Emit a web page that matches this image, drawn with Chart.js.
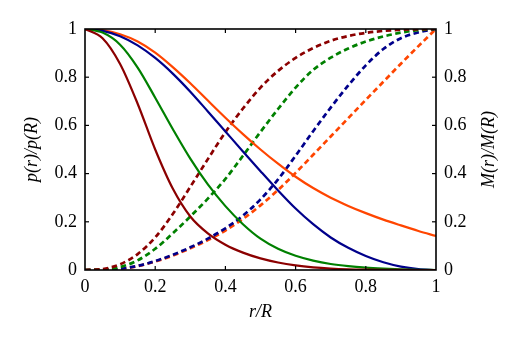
<!DOCTYPE html>
<html><head><meta charset="utf-8">
<script src="https://cdn.jsdelivr.net/npm/chart.js@4/dist/chart.umd.min.js"></script>
<style>html,body{margin:0;padding:0;background:#fff;}</style>
</head><body>
<canvas id="c" width="522" height="344"></canvas>
<script>
const rValues = [0,0.05,0.1,0.15,0.2,0.25,0.3,0.35,0.4,0.45,0.5,0.55,0.6,0.65,0.7,0.75,0.8,0.85,0.9,0.95,1];
// solid: p(r)/p(R)
const pRed    = [1,0.962,0.855,0.69,0.5,0.338,0.222,0.152,0.105,0.072,0.048,0.031,0.019,0.011,0.006,0.003,0.0015,0.0007,0.0003,0.0001,0];
const pGreen  = [1,0.985,0.935,0.84,0.715,0.585,0.462,0.355,0.265,0.19,0.13,0.088,0.059,0.039,0.025,0.016,0.01,0.006,0.003,0.001,0];
const pBlue   = [1,0.992,0.97,0.932,0.88,0.815,0.74,0.658,0.575,0.492,0.41,0.33,0.255,0.19,0.135,0.092,0.058,0.032,0.014,0.004,0];
const pOrange = [1,0.995,0.978,0.948,0.902,0.842,0.775,0.703,0.632,0.564,0.5,0.441,0.387,0.34,0.3,0.266,0.236,0.209,0.185,0.162,0.141];
// dashed: M(r)/M(R)
const mRed    = [0,0.004,0.024,0.066,0.135,0.232,0.345,0.46,0.572,0.67,0.757,0.826,0.88,0.921,0.951,0.971,0.984,0.992,0.997,0.999,1];
const mGreen  = [0,0.002,0.012,0.04,0.088,0.152,0.222,0.296,0.378,0.474,0.573,0.668,0.757,0.83,0.881,0.919,0.948,0.969,0.985,0.995,1];
const mBlue   = [0,0.001,0.005,0.017,0.037,0.063,0.094,0.13,0.173,0.226,0.293,0.376,0.474,0.576,0.674,0.766,0.849,0.917,0.962,0.986,1];
const mOrange = [0,0.001,0.005,0.016,0.035,0.06,0.09,0.124,0.164,0.212,0.268,0.332,0.403,0.478,0.554,0.63,0.706,0.781,0.856,0.929,1];

const tickValues = [0,0.2,0.4,0.6,0.8,1];
const tickLabels = ['0','0.2','0.4','0.6','0.8','1'];
const xTitle = 'r/R';
const yTitle = 'p(r)/p(R)';
const y2Title = 'M(r)/M(R)';

const RED='#8b0000', GREEN='#008000', BLUE='#00008b', ORANGE='#ff4500';
const FONT = '"Liberation Serif", serif';

function pts(arr){ return rValues.map((r,i)=>({x:r,y:arr[i]})); }
function solid(arr,c){ return {data:pts(arr),borderColor:c,borderWidth:2.2,pointRadius:0,cubicInterpolationMode:'monotone',yAxisID:'y',fill:false}; }
function dashed(arr,c){ return {data:pts(arr),borderColor:c,borderWidth:2.7,borderDash:[5.5,3.5],pointRadius:0,cubicInterpolationMode:'monotone',yAxisID:'y2',fill:false}; }

const frameTicks = {
  id:'frameTicks',
  afterDatasetsDraw(chart){
    const {ctx, chartArea:a, scales:{x,y}} = chart;
    ctx.save();
    ctx.strokeStyle='#000';
    ctx.lineWidth=1.2;
    const line=(x1,y1,x2,y2)=>{ctx.beginPath();ctx.moveTo(x1,y1);ctx.lineTo(x2,y2);ctx.stroke();};
    tickValues.forEach(v=>{
      if(v<=0||v>=1) return;
      const px=x.getPixelForValue(v), py=y.getPixelForValue(v);
      line(px,a.bottom,px,a.bottom-4); line(px,a.top,px,a.top+4);
      line(a.left,py,a.left+4,py); line(a.right,py,a.right-4,py);
    });
    ctx.lineWidth=1.6;
    ctx.strokeRect(a.left,a.top,a.right-a.left,a.bottom-a.top);
    // right axis title, reading bottom to top
    ctx.fillStyle='#000';
    ctx.font='italic 18px '+FONT;
    ctx.textAlign='center'; ctx.textBaseline='middle';
    ctx.translate(489,(a.top+a.bottom)/2);
    ctx.rotate(-Math.PI/2);
    ctx.fillText(y2Title,0,0);
    ctx.restore();
  }
};

const tickOpts = {
  font:{family:FONT,size:18}, color:'#000', padding:8, autoSkip:false, maxRotation:0,
  callback:(v,i)=>tickLabels[i]
};
const setTicks = s => { s.ticks = tickValues.map(v=>({value:v})); };

new Chart(document.getElementById('c'), {
  type:'line',
  data:{datasets:[
    solid(pRed,RED), solid(pGreen,GREEN), solid(pBlue,BLUE), solid(pOrange,ORANGE),
    dashed(mRed,RED), dashed(mGreen,GREEN), dashed(mBlue,BLUE), dashed(mOrange,ORANGE)
  ]},
  options:{
    responsive:false, animation:false, devicePixelRatio:1,
    layout:{padding:{top:29,left:0,right:0,bottom:0}},
    plugins:{legend:{display:false},tooltip:{enabled:false}},
    scales:{
      x:{type:'linear',position:'bottom',min:0,max:1,
        afterBuildTicks:setTicks, afterFit:s=>{s.height=74;},
        ticks:{...tickOpts,padding:6},
        grid:{display:false,drawTicks:false}, border:{display:false},
        title:{display:true,text:xTitle,color:'#000',font:{family:FONT,size:18,style:'italic'},padding:{top:0,bottom:21}}
      },
      y:{type:'linear',position:'left',min:0,max:1,
        afterBuildTicks:setTicks, afterFit:s=>{s.width=85;},
        ticks:tickOpts,
        grid:{display:false,drawTicks:false}, border:{display:false},
        title:{display:true,text:yTitle,color:'#000',font:{family:FONT,size:18,style:'italic'},padding:{top:21,bottom:0}}
      },
      y2:{type:'linear',position:'right',min:0,max:1,
        afterBuildTicks:setTicks, afterFit:s=>{s.width=86;},
        ticks:tickOpts,
        grid:{display:false,drawTicks:false}, border:{display:false}
      }
    }
  },
  plugins:[frameTicks]
});
</script>
</body></html>
